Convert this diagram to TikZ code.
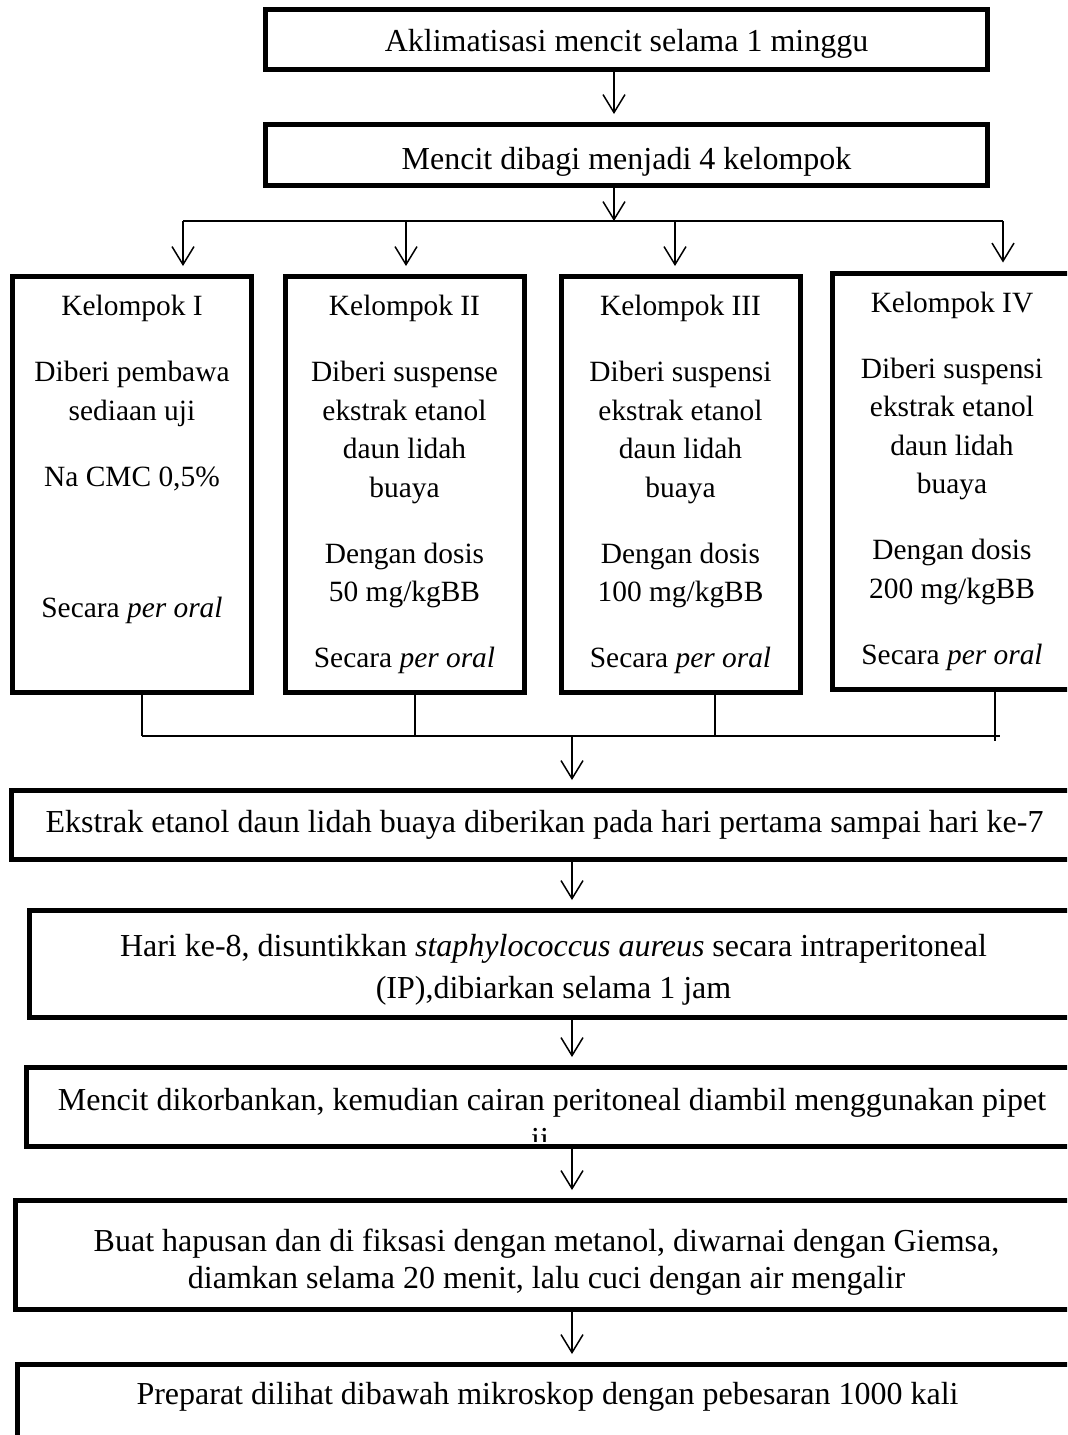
\documentclass[tikz,border=0pt]{standalone}
\usepackage{fontspec}
\setmainfont{Liberation Serif}
\usetikzlibrary{arrows.meta}

\begin{document}
\begin{tikzpicture}[
    x=0.5pt, y=-0.5pt,
    font=\fontsize{16pt}{19.25pt}\selectfont,
    block/.style={rectangle, draw, line width=2.5pt, inner sep=0pt, align=center},
    group/.style={block, minimum width=119.5pt, minimum height=208pt, font=\fontsize{14.7pt}{19.25pt}\selectfont},
    link/.style={line width=0.75pt},
    arrow/.style={link, -{Straight Barb[length=9pt,width=11pt]}, shorten >=4pt}
]
\useasboundingbox (0,0) rectangle (1067,1435);
\clip (0,0) rectangle (1067,1435);

% Define nodes
\node (b1) [block, minimum width=361pt, minimum height=30pt] at (626.5,39.5) {\rule{0pt}{15pt}Aklimatisasi mencit selama 1 minggu};
\node (b2) [block, minimum width=361pt, minimum height=30.5pt] at (626.5,155) {\rule{0pt}{18pt}Mencit dibagi menjadi 4 kelompok};

\node (g1) [group] at (132,484.5) {Kelompok I\\[13.75pt]Diberi pembawa\\sediaan uji\\[13.75pt]Na CMC 0,5\%\\[46.25pt]Secara \emph{per oral}\\[9pt]\mbox{}};
\node (g2) [group] at (404.5,484.5) {Kelompok II\\[13.75pt]Diberi suspense\\ekstrak etanol\\daun lidah\\buaya\\[13.75pt]Dengan dosis\\50 mg/kgBB\\[13.75pt]Secara \emph{per oral}};
\node (g3) [group] at (680.5,484.5) {Kelompok III\\[13.75pt]Diberi suspensi\\ekstrak etanol\\daun lidah\\buaya\\[13.75pt]Dengan dosis\\100 mg/kgBB\\[13.75pt]Secara \emph{per oral}};
\node (g4) [group] at (952,481) {Kelompok IV\\[13.75pt]Diberi suspensi\\ekstrak etanol\\daun lidah\\buaya\\[13.75pt]Dengan dosis\\200 mg/kgBB\\[13.75pt]Secara \emph{per oral}};

\node (b5) [block, minimum width=533pt, minimum height=34.5pt] at (544.5,825) {Ekstrak etanol daun lidah buaya diberikan pada hari pertama sampai hari ke-7};
\node (b6) [block, minimum width=524pt, minimum height=53.5pt] at (553.5,964) {\rule{0pt}{17pt}Hari ke-8, disuntikkan \emph{staphylococcus aureus} secara intraperitoneal\\[1.75pt](IP),dibiarkan selama 1 jam};
\node (b7) [block, minimum width=525.5pt, minimum height=39.5pt, text depth=7.5pt] at (552,1107) {Mencit dikorbankan, kemudian cairan peritoneal diambil menggunakan pipet};
\node (b8) [block, minimum width=531pt, minimum height=54.5pt] at (546.5,1255) {\rule{0pt}{18pt}Buat hapusan dan di fiksasi dengan metanol, diwarnai dengan Giemsa,\\[-0.75pt]diamkan selama 20 menit, lalu cuci dengan air mengalir};
\node (b9) [block, minimum width=530pt, minimum height=41.5pt, text depth=12.5pt] at (547.5,1406) {Preparat dilihat dibawah mikroskop dengan pebesaran 1000 kali};

% second line of b7 cut off by the box
\begin{scope}
  \clip (b7.north west) rectangle ([yshift=4pt]b7.south east);
  \node (b7x) [anchor=base] at ([xshift=-6pt,yshift=-19.25pt]b7.base) {ii};
\end{scope}

% Split to the groups
\coordinate (s0) at (614,221);
\coordinate (s1) at (183,221);
\coordinate (s2) at (406,221);
\coordinate (s3) at (675,221);
\coordinate (s4) at (1003,221);
\draw [arrow] (b1.south -| s0) -- (b2.north -| s0);
\draw [arrow, shorten >=0pt] (b2.south -| s0) -- (s0);
\draw [link] (s1) -- (s4);
\foreach \i in {1,...,4}
  \draw [arrow] (s\i) -- (g\i.north -| s\i);

% Join the groups
\coordinate (c1) at (142,736);
\coordinate (c2) at (415,736);
\coordinate (c3) at (715,736);
\coordinate (c4) at (995,736);
\coordinate (m) at (572,736);
\foreach \i in {1,...,3}
  \draw [link] (g\i.south -| c\i) -- (c\i);
\draw [link] (g4.south -| c4) -- ([yshift=-2.5pt]c4);
\draw [link] (c1) -- ([xshift=2.5pt]c4);

% Connect nodes
\draw [arrow] (m) -- (b5.north -| m);
\draw [arrow] (b5.south -| m) -- (b6.north -| m);
\draw [arrow] (b6.south -| m) -- (b7.north -| m);
\draw [arrow] (b7.south -| m) -- (b8.north -| m);
\draw [arrow] (b8.south -| m) -- (b9.north -| m);
\end{tikzpicture}
\end{document}
